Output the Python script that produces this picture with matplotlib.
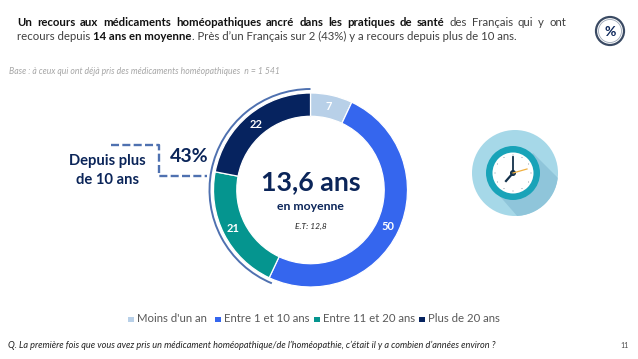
import matplotlib
matplotlib.use("Agg")
import matplotlib.pyplot as plt
from matplotlib.patches import Arc, Circle, Polygon, Rectangle

W, H = 638, 359

CATEGORIES = ["Moins d'un an", "Entre 1 et 10 ans", "Entre 11 et 20 ans", "Plus de 20 ans"]
VALUES = [7, 50, 21, 22]
COLORS = ["#b8d0e8", "#3566ee", "#05958f", "#06235f"]
LEGEND_X = [128, 215, 314, 419]

NAVY = "#0b2559"
GREY = "#595959"
BRACKET = "#4f71b0"
TITLE_SIZE = 8.2

plt.rcParams["font.family"] = ["Lato", "DejaVu Sans"]

fig = plt.figure(figsize=(W / 100, H / 100), dpi=100, facecolor="white")

# pixel overlay for all the annotations
ax = fig.add_axes([0, 0, 1, 1])
ax.set_xlim(0, W)
ax.set_ylim(H, 0)
ax.axis("off")

# donut
CX, CY, R = 310.5, 190, 97
pie_ax = fig.add_axes([(CX - R) / W, 1 - (CY + R) / H, 2 * R / W, 2 * R / H])
wedges, _ = pie_ax.pie(
  VALUES,
  colors=COLORS,
  startangle=90,
  counterclock=False,
  radius=1,
  wedgeprops={"width": 0.24, "edgecolor": "white", "linewidth": 0.9},
)
pie_ax.set_xlim(-1, 1)
pie_ax.set_ylim(-1, 1)

LABEL_POS = [(329, 107), (388, 227), (233, 229), (256, 125)]
for value, (x, y) in zip(VALUES, LABEL_POS):
  ax.text(x, y, str(value), ha="center", va="center", fontsize=8, color="white",
          fontweight="bold", zorder=5)
ax.set_zorder(2)
ax.patch.set_alpha(0)

ax.text(CX, 182, "13,6 ans", ha="center", va="center", fontsize=19.3, color=NAVY, fontweight="bold")
ax.text(CX, 207, "en moyenne", ha="center", va="center", fontsize=8.8, color=NAVY, fontweight="bold")
ax.text(CX, 226, "E.T: 12,8", ha="center", va="center", fontsize=6, color="#222222", style="italic")

# arc around the 43% (y axis is inverted here, so angles run clockwise on screen)
ax.add_patch(Arc((CX, CY), 2 * 101, 2 * 101, theta1=112.5, theta2=270, color=BRACKET, linewidth=1.4))

# dashed bracket
ax.plot([111, 159, 159, 207], [145, 145, 176, 176], color=BRACKET, linewidth=1.7,
        linestyle=(0, (3.4, 1.4)), solid_joinstyle="miter")
ax.text(189, 156, "43%", ha="center", va="center", fontsize=14, color=NAVY, fontweight="bold")
ax.text(107, 161, "Depuis plus", ha="center", va="center", fontsize=10.6, color=NAVY, fontweight="bold")
ax.text(107, 180, "de 10 ans", ha="center", va="center", fontsize=10.6, color=NAVY, fontweight="bold")

# title, first line justified word by word
renderer = fig.canvas.get_renderer()


def put_run(x, y, text, bold=False):
  t = ax.text(x, y, text, ha="left", va="center", fontsize=TITLE_SIZE,
              color="#111111" if bold else "#404040",
              fontweight="bold" if bold else "normal")
  return t.get_window_extent(renderer).width


line1 = [(w, True) for w in "Un recours aux médicaments homéopathiques ancré dans les pratiques de santé".split()]
line1 += [(w, False) for w in "des Français qui y ont".split()]
probe = [ax.text(0, 0, w, fontsize=TITLE_SIZE, fontweight="bold" if b else "normal") for w, b in line1]
widths = [p.get_window_extent(renderer).width for p in probe]
for p in probe:
  p.remove()
gap = (566 - 17 - sum(widths)) / (len(line1) - 1)
x = 17
for (word, bold), width in zip(line1, widths):
  put_run(x, 22, word, bold)
  x += width + gap

x = 17
for text, bold in [("recours depuis ", False), ("14 ans en moyenne", True),
                   (". Près d’un Français sur 2 (43%) y a recours depuis plus de 10 ans.", False)]:
  x += put_run(x, 36, text.replace(" ", "\u00a0"), bold)

ax.text(9, 71, "Base : à ceux qui ont déjà pris des médicaments homéopathiques  n = 1 541",
        ha="left", va="center", fontsize=6.2, color="#a6a6a6", style="italic")

# % badge
ax.add_patch(Circle((610, 31), 14, facecolor="white", edgecolor="#3a4a63", linewidth=1.6))
ax.add_patch(Circle((610, 31), 11.5, facecolor="white", edgecolor="#9aa5b5", linewidth=0.6))
ax.text(610, 31.5, "%", ha="center", va="center", fontsize=10, color=NAVY, fontweight="bold")

# clock icon
CLOCK_X, CLOCK_Y = 513, 173
disc = Circle((515, 173), 43, facecolor="#a6d8e8", edgecolor="none")
ax.add_patch(disc)
shadow = Polygon([(533, 153), (562, 182), (562, 225), (525, 225), (497, 193)],
                 facecolor="#8fc5da", edgecolor="none")
ax.add_patch(shadow)
shadow.set_clip_path(disc)
ax.add_patch(Circle((CLOCK_X, CLOCK_Y), 27, facecolor="#19a3b8", edgecolor="none"))
ax.add_patch(Circle((CLOCK_X, CLOCK_Y), 20.5, facecolor="white", edgecolor="none"))
for dx, dy in [(0, -18), (9, -15.6), (15.6, -9), (18, 0), (15.6, 9), (9, 15.6),
               (0, 18), (-9, 15.6), (-15.6, 9), (-18, 0), (-15.6, -9), (-9, -15.6)]:
  ax.add_patch(Circle((CLOCK_X + dx, CLOCK_Y + dy), 0.45, facecolor="#556677", edgecolor="none"))
ax.plot([CLOCK_X, CLOCK_X], [CLOCK_Y, 157], color="#12304a", linewidth=1.3)
ax.plot([CLOCK_X, 506], [CLOCK_Y, 181], color="#12304a", linewidth=1.6)
ax.plot([CLOCK_X, 527], [CLOCK_Y, 169], color="#f0b040", linewidth=0.9)
ax.add_patch(Circle((CLOCK_X, CLOCK_Y), 3, facecolor="#12304a", edgecolor="none"))
ax.add_patch(Circle((CLOCK_X, CLOCK_Y), 1.3, facecolor="#f0b040", edgecolor="none"))

# legend
for name, color, x in zip(CATEGORIES, COLORS, LEGEND_X):
  ax.add_patch(Rectangle((x, 316.5), 5.5, 5.5, facecolor=color, edgecolor="none"))
  ax.text(x + 9, 319, name, ha="left", va="center", fontsize=8.2, color=GREY)

ax.text(8, 345, "Q. La première fois que vous avez pris un médicament homéopathique/de l’homéopathie, c’était il y a combien d’années environ ?",
        ha="left", va="center", fontsize=6.6, color="#222222", style="italic")
ax.text(629, 345, "11", ha="right", va="center", fontsize=5, color="#444444")

fig.savefig("out.png", dpi=100, facecolor="white")
